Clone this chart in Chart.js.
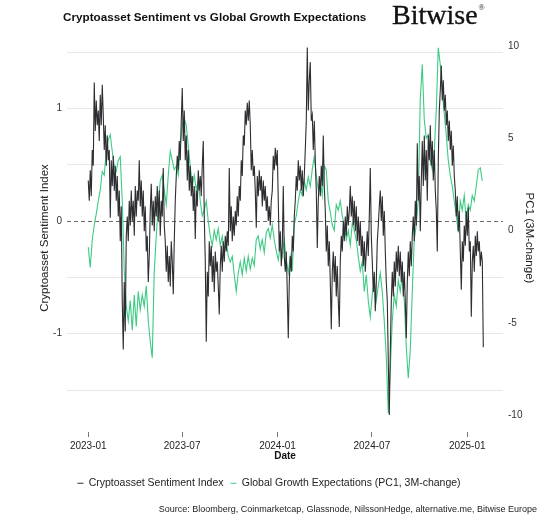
<!DOCTYPE html>
<html><head><meta charset="utf-8">
<script src="https://cdn.jsdelivr.net/npm/chart.js@4.4.1/dist/chart.umd.min.js"></script>
<style>
html,body{margin:0;padding:0;background:#fff;width:556px;height:525px;overflow:hidden}
#wrap{position:relative;width:556px;height:525px}
canvas{position:absolute;left:0;top:0}
#title{position:absolute;left:63px;top:10px;font:bold 11.7px "Liberation Sans",Arial,sans-serif;color:#111;white-space:nowrap}
#logo{position:absolute;left:392px;top:-1px;font:28px "Liberation Serif","Times New Roman",serif;color:#111;white-space:nowrap;-webkit-text-stroke:0.35px #111}
#logo .r{font-size:8px;position:relative;top:-14px;left:1px;-webkit-text-stroke:0}
#source{position:absolute;right:19px;top:504px;font:9px "Liberation Sans",Arial,sans-serif;color:#222;white-space:nowrap}
</style></head>
<body><div id="wrap">
<canvas id="c" width="556" height="525"></canvas>
<div id="title">Cryptoasset Sentiment vs Global Growth Expectations</div>
<div id="logo">Bitwise<span class="r">®</span></div>
<div id="source">Source: Bloomberg, Coinmarketcap, Glassnode, NilssonHedge, alternative.me, Bitwise Europe</div>
</div>
<script>
// ---- data ----
const seriesStart = '2023-01-01';
const sentimentEnd = '2025-02-01';
const growthEnd = '2025-01-30';
const xAxisStart = '2022-11-21';
const xAxisEnd = '2025-03-11';
const tickLabels = ['2023-01','2023-07','2024-01','2024-07','2025-01'];
const sentimentTicks = [-1.5,-1,-0.5,0,0.5,1,1.5];
const growthTicks = [-10,-5,0,5,10];

const sentimentIndex = [
0.36,0.18,0.45,0.22,0.63,0.49,1.23,0.80,1.07,0.85,
0.98,0.71,1.12,0.85,1.21,0.94,0.63,0.85,0.49,0.76,
0.54,0.63,0.03,0.54,0.31,0.58,0.27,0.49,0.18,0.40,
0.04,0.27,-0.18,0.13,-0.71,-1.14,-0.54,-0.98,-0.13,0.04,
-0.18,0.18,-0.04,0.27,0.00,0.18,-0.13,0.31,0.04,0.27,
0.18,0.54,0.13,0.36,0.04,0.27,-0.09,0.13,-0.27,-0.13,
-0.54,-0.31,0.09,0.33,-0.04,0.18,-0.09,0.22,0.04,0.31,
0.00,0.27,-0.13,0.18,0.04,0.47,-0.04,-0.18,-0.45,-0.22,
-0.54,-0.31,-0.58,-0.18,-0.36,-0.65,-0.18,0.18,0.40,0.58,
0.45,0.71,0.54,0.89,1.18,0.71,0.98,0.54,0.76,0.36,
0.63,0.27,0.49,0.22,0.40,0.09,0.31,-0.16,0.27,0.13,
0.45,0.27,0.40,0.22,0.49,0.71,0.04,-0.36,-1.07,-0.45,
-0.67,-0.18,-0.40,-0.22,-0.54,-0.31,-0.63,-0.27,-0.45,-0.36,
-0.58,-0.83,-0.40,-0.22,-0.45,-0.18,-0.36,-0.13,-0.27,-0.09,
-0.22,0.47,-0.09,0.13,-0.18,0.04,-0.13,0.09,-0.04,0.22,
0.04,0.31,0.18,0.54,0.40,0.76,0.67,0.98,0.85,1.05,
0.89,1.07,0.85,0.45,0.63,0.40,0.49,0.27,-0.06,0.40,
0.22,0.45,0.27,0.40,0.13,0.36,0.18,0.31,0.09,0.22,
0.00,0.13,-0.04,0.18,0.27,0.58,0.45,0.65,0.49,0.63,
0.18,-0.27,-0.09,-0.40,-0.22,0.31,-0.31,-0.45,-0.27,-0.63,
-1.04,-0.54,-0.31,-0.45,-0.13,-0.27,0.04,0.18,0.40,0.27,
0.54,0.36,0.49,0.27,0.45,0.22,0.40,0.63,0.89,1.54,
0.98,1.25,1.41,0.89,0.94,0.63,0.89,0.54,0.27,-0.24,
0.18,0.40,0.22,0.49,0.31,0.76,0.31,0.09,-0.27,-0.04,
-0.40,-0.18,-0.54,-0.96,-0.45,-0.27,-0.54,-0.31,-0.67,-0.40,
-0.71,-0.94,-0.36,-0.13,-0.27,0.00,-0.18,0.04,-0.13,0.13,
-0.04,0.09,0.31,0.04,0.22,-0.04,0.18,-0.09,0.13,-0.18,
0.04,-0.22,0.00,-0.31,-0.13,-0.40,-0.18,-0.45,-0.27,-0.09,
-0.31,0.04,0.47,-0.13,-0.36,-0.63,-0.45,-0.80,-0.54,-0.18,
-0.04,0.13,0.27,0.00,0.22,-0.13,0.09,-0.27,-0.54,-0.71,
-1.25,-1.72,-1.16,-0.71,-0.45,-0.67,-0.36,-0.58,-0.27,-0.45,
-0.22,-0.49,-0.27,-0.54,-0.36,-0.67,-0.45,-0.71,-1.04,-0.54,
-0.27,-0.49,-0.18,-0.40,-0.13,0.04,-0.18,0.18,-0.04,0.69,
0.18,0.40,-0.09,0.36,0.71,0.31,0.76,0.36,0.63,0.18,
0.76,0.54,0.85,0.49,0.71,0.36,0.63,0.27,0.09,-0.27,
0.54,0.98,1.16,1.38,1.07,1.25,0.98,1.12,0.85,0.98,
0.71,0.89,0.63,0.80,0.49,0.67,0.40,0.27,0.04,0.22,
-0.09,0.09,-0.27,-0.61,-0.18,-0.36,-0.04,-0.22,0.09,-0.13,
0.12,-0.27,-0.18,-0.85,-0.36,-0.22,-0.45,-0.13,-0.31,-0.09,
-0.27,-0.18,-0.40,-0.27,-0.36,-1.12
];

const growthExpectations = [
-0.9,-2.0,-0.5,0.3,0.9,1.6,2.2,3.2,3.0,4.3,
4.9,5.2,4.3,3.5,3.2,3.8,4.0,1.6,-2.2,-4.1,
-4.9,-3.8,-5.4,-3.5,-5.2,-3.3,-4.3,-3.5,-4.1,-3.0,
-4.9,-6.0,-6.9,-2.2,-0.3,1.4,2.7,3.0,2.2,1.4,
3.0,4.3,3.8,3.3,3.5,3.0,4.6,5.7,6.1,5.7,
4.6,3.5,2.4,3.0,2.2,2.7,1.6,0.8,1.1,1.6,
0.5,-0.3,-0.8,0.0,-0.5,0.1,-0.8,-0.3,-1.1,-0.5,
-1.4,-1.7,-1.4,-2.4,-3.3,-2.3,-1.7,-2.4,-1.5,-2.2,
-1.4,-2.1,-1.5,-1.9,-0.5,-0.3,-1.0,-0.5,-1.2,-0.1,
0.1,-0.4,0.3,-0.5,-1.1,-1.6,-0.8,-1.4,-0.5,-1.6,
-2.3,-1.4,-2.2,0.3,0.8,1.6,2.2,1.9,2.7,2.2,
2.9,2.4,3.3,4.0,3.0,2.2,2.7,1.9,3.5,3.3,
1.6,1.0,0.3,0.0,1.4,1.1,1.6,0.8,0.3,-0.5,
0.0,-0.8,0.4,0.0,-0.5,-1.4,-2.2,-1.7,-3.3,-2.4,
-3.8,-4.7,-3.5,-2.7,-3.8,-3.0,-2.3,-3.3,-4.9,-6.8,
-9.9,-7.6,-4.9,-3.5,-4.1,-2.7,-3.3,-2.4,-3.8,-6.3,
-8.0,-6.5,-3.3,-0.5,0.3,1.6,7.1,9.0,6.0,5.0,
5.2,3.8,3.3,4.3,6.5,9.9,9.0,7.6,6.3,5.2,
3.8,3.0,2.4,1.6,0.8,-0.1,1.6,1.1,1.9,0.5,
1.4,1.1,1.9,1.6,2.4,3.3,3.4,2.7
];

// ---- helpers ----
const DAY = 86400000;
const t0 = Date.parse(seriesStart + 'T00:00:00Z');
const dayOf = s => (Date.parse(s + 'T00:00:00Z') - t0) / DAY;
function spread(vals, endDate){
  const span = dayOf(endDate);
  return vals.map((v,i)=>({x: i*span/(vals.length-1), y: v}));
}
const tickDays = tickLabels.map(l => dayOf(l + '-01'));

const zeroLine = {
  id:'zeroLine',
  beforeDatasetsDraw(chart){
    const {ctx, chartArea:{left,right}, scales:{y}} = chart;
    const py = Math.round(y.getPixelForValue(0)) + 0.5;
    ctx.save();
    ctx.strokeStyle = '#6a6a6a';
    ctx.lineWidth = 1;
    ctx.setLineDash([4,3]);
    ctx.beginPath(); ctx.moveTo(left,py); ctx.lineTo(right,py); ctx.stroke();
    ctx.restore();
  }
};

const FONT = '"Liberation Sans", Arial, sans-serif';
Chart.defaults.font.family = FONT;
Chart.defaults.color = '#222';

new Chart(document.getElementById('c'), {
  type:'line',
  data:{datasets:[
    {label:'Cryptoasset Sentiment Index', data: spread(sentimentIndex, sentimentEnd), yAxisID:'y',
     borderColor:'#2e2e32', backgroundColor:'#2e2e32', borderWidth:1.1, pointRadius:0, tension:0},
    {label:'Global Growth Expectations (PC1, 3M-change)', data: spread(growthExpectations, growthEnd), yAxisID:'y2',
     borderColor:'#3ecb84', backgroundColor:'#3ecb84', borderWidth:1.1, pointRadius:0, tension:0}
  ]},
  options:{
    responsive:false, animation:false, parsing:true,
    layout:{padding:{top:44, bottom:26.5, left:0, right:18}},
    plugins:{
      legend:{position:'bottom', labels:{usePointStyle:true, pointStyle:'line', pointStyleWidth:6,
        font:{size:10.5, family:FONT}, color:'#222', padding:7}},
      tooltip:{enabled:false}
    },
    scales:{
      x:{type:'linear', min:dayOf(xAxisStart), max:dayOf(xAxisEnd),
        afterBuildTicks: s => { s.ticks = tickDays.map(v=>({value:v})); },
        afterFit: s => { s.height = 39; },
        ticks:{callback:(v,i)=>tickLabels[i], font:{size:10}, color:'#222', padding:3, maxRotation:0, autoSkip:false},
        grid:{drawOnChartArea:false, drawTicks:true, tickLength:5, tickColor:'#777', tickWidth:1},
        border:{display:false},
        title:{display:true, text:'Date', font:{size:10, weight:'bold'}, color:'#111', padding:{top:0,bottom:9}}
      },
      y:{position:'left', min:-1.872, max:1.571,
        afterBuildTicks: s => { s.ticks = sentimentTicks.map(v=>({value:v})); },
        afterFit: s => { s.width = 67; },
        ticks:{callback:v => Number.isInteger(v) ? String(v) : '', font:{size:10}, color:'#333', padding:5},
        grid:{drawTicks:false, color: c => c.tick && c.tick.value === 0 ? 'rgba(0,0,0,0)' : '#e7e7e7', lineWidth:1},
        border:{display:false},
        title:{display:true, text:'Cryptoasset Sentiment Index', font:{size:11.5}, color:'#222', padding:{top:38,bottom:0}}
      },
      y2:{position:'right', min:-10.92, max:10.11,
        afterBuildTicks: s => { s.ticks = growthTicks.map(v=>({value:v})); },
        afterFit: s => { s.width = 35; },
        ticks:{callback:v => String(v), font:{size:10}, color:'#333', padding:5},
        grid:{display:false, drawTicks:false},
        border:{display:false},
        title:{display:true, text:'PC1 (3M-change)', font:{size:11.5}, color:'#222', padding:{top:2,bottom:0}}
      }
    }
  },
  plugins:[zeroLine]
});
</script>
</body></html>
